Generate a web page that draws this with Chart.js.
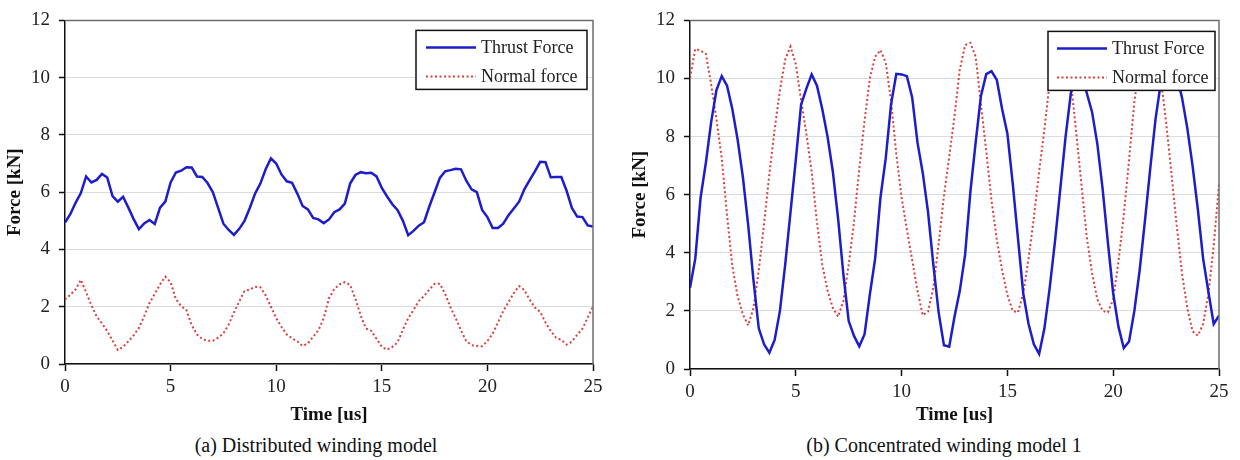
<!DOCTYPE html>
<html>
<head>
<meta charset="utf-8">
<script src="https://cdn.jsdelivr.net/npm/chart.js@4.4.1/dist/chart.umd.min.js"></script>
<style>
  body { margin: 0; background: #fff; width: 1240px; height: 460px; position: relative; overflow: hidden; }
  .box { position: absolute; top: 0; width: 620px; height: 430px; }
  .caption { position: absolute; top: 434px; font: 20px "Liberation Serif", serif; color: #111; text-align: center; }
</style>
</head>
<body>
<div class="box" style="left:0"><canvas id="chartA"></canvas></div>
<div class="box" style="left:620px"><canvas id="chartB"></canvas></div>
<div class="caption" style="left:156px;width:320px">(a) Distributed winding model</div>
<div class="caption" style="left:774px;width:340px">(b) Concentrated winding model 1</div>
<script>
// time axis, us
const timeUs = [
  0, 0.25, 0.5, 0.75, 1, 1.25, 1.5, 1.75, 2, 2.25,
  2.5, 2.75, 3, 3.25, 3.5, 3.75, 4, 4.25, 4.5, 4.75,
  5, 5.25, 5.5, 5.75, 6, 6.25, 6.5, 6.75, 7, 7.25,
  7.5, 7.75, 8, 8.25, 8.5, 8.75, 9, 9.25, 9.5, 9.75,
  10, 10.25, 10.5, 10.75, 11, 11.25, 11.5, 11.75, 12, 12.25,
  12.5, 12.75, 13, 13.25, 13.5, 13.75, 14, 14.25, 14.5, 14.75,
  15, 15.25, 15.5, 15.75, 16, 16.25, 16.5, 16.75, 17, 17.25,
  17.5, 17.75, 18, 18.25, 18.5, 18.75, 19, 19.25, 19.5, 19.75,
  20, 20.25, 20.5, 20.75, 21, 21.25, 21.5, 21.75, 22, 22.25,
  22.5, 22.75, 23, 23.25, 23.5, 23.75, 24, 24.25, 24.5, 24.75,
  25
];

// (a) distributed winding, kN
const thrustA = [
  4.94, 5.23, 5.63, 5.97, 6.55, 6.34, 6.43, 6.64, 6.51, 5.86,
  5.67, 5.84, 5.46, 5.06, 4.71, 4.91, 5.03, 4.89, 5.46, 5.67,
  6.34, 6.69, 6.75, 6.87, 6.86, 6.55, 6.53, 6.32, 6.0, 5.45,
  4.9, 4.68, 4.51, 4.72, 5.0, 5.45, 5.95, 6.3, 6.8, 7.18,
  7.0, 6.62, 6.38, 6.33, 5.95, 5.52, 5.4, 5.1, 5.05, 4.92,
  5.05, 5.3, 5.4, 5.6, 6.3, 6.6, 6.7, 6.66, 6.68, 6.55,
  6.15, 5.85, 5.58, 5.37, 5.0, 4.5, 4.65, 4.83, 4.95, 5.5,
  6.0, 6.5, 6.73, 6.77, 6.82, 6.8, 6.4, 6.1, 6.0, 5.38,
  5.13, 4.75, 4.75, 4.9, 5.2, 5.43, 5.67, 6.1, 6.42, 6.73,
  7.06, 7.05, 6.52, 6.53, 6.53, 6.05, 5.45, 5.15, 5.13, 4.84,
  4.8
];
const normalA = [
  2.25, 2.42, 2.6, 2.94, 2.5, 2.05, 1.66, 1.42, 1.15, 0.82,
  0.49, 0.6, 0.79, 1.0, 1.26, 1.67, 2.13, 2.45, 2.78, 3.05,
  2.85, 2.27, 2.02, 1.88, 1.35, 1.03, 0.87, 0.81, 0.81, 0.92,
  1.07, 1.38, 1.8, 2.18, 2.55, 2.6, 2.7, 2.68, 2.4, 2.0,
  1.6, 1.3, 1.03, 0.9, 0.79, 0.63, 0.72, 0.95, 1.18, 1.6,
  2.3, 2.62, 2.78, 2.86, 2.76, 2.28, 1.7, 1.24, 1.16, 0.88,
  0.6, 0.5, 0.6, 0.76, 1.2, 1.6, 1.88, 2.2, 2.37, 2.6,
  2.8, 2.8, 2.45, 1.98, 1.6, 1.17, 0.8, 0.66, 0.63, 0.62,
  0.8, 1.06, 1.45, 1.85, 2.16, 2.48, 2.72, 2.58, 2.25, 1.97,
  1.82, 1.45, 1.15, 0.92, 0.84, 0.68, 0.78, 1.02, 1.23, 1.62,
  2.02
];

// (b) concentrated winding model 1, kN
const thrustB = [
  2.8, 3.8, 5.9, 7.1, 8.5, 9.6, 10.08, 9.75, 8.95, 7.9,
  6.6, 4.95, 3.05, 1.4, 0.85, 0.56, 1.0, 2.0, 3.6, 5.4,
  7.2, 9.1, 9.65, 10.14, 9.75, 8.95, 8.0, 6.8, 5.17, 3.25,
  1.65, 1.14, 0.78, 1.2, 2.57, 3.8, 5.9, 7.25, 9.1, 10.16,
  10.14, 10.08, 9.35, 7.8, 6.75, 5.4, 3.59, 1.95, 0.82, 0.77,
  1.8, 2.69, 3.93, 6.1, 7.8, 9.4, 10.15, 10.25, 9.95, 8.95,
  8.1, 6.4, 4.5, 2.6, 1.55, 0.85, 0.52, 1.4, 2.8, 4.4,
  6.2, 8.0, 9.5, 10.1, 10.15, 9.5, 8.85, 7.75, 6.2, 4.35,
  2.6, 1.45, 0.72, 0.95, 2.0, 3.4, 5.1, 6.9, 8.6, 9.85,
  10.15, 10.2, 10.1, 9.35, 8.3, 7.0, 5.5, 3.8, 2.65, 1.55,
  1.84
];
const normalB = [
  10.02, 11.02, 10.96, 10.85, 9.8, 8.6, 7.25, 5.3, 3.55, 2.5,
  1.88, 1.5, 2.1, 3.4, 5.0, 6.7, 8.25, 9.6, 10.65, 11.1,
  10.5, 9.25, 8.1, 6.8, 5.05, 3.6, 2.7, 2.1, 1.8, 2.35,
  3.6, 5.05, 6.9, 8.55, 10.0, 10.75, 10.98, 10.55, 9.25, 7.4,
  5.9, 4.8, 3.75, 2.7, 1.85, 1.98, 2.8, 4.3, 5.95, 7.3,
  8.7, 10.3, 11.15, 11.23, 10.75, 9.1, 7.5, 5.8, 4.45, 3.4,
  2.55, 2.0, 1.95, 2.6, 3.8, 5.2, 6.8, 8.25, 9.9, 10.8,
  11.1, 10.8, 9.9, 8.15, 6.35, 4.55, 3.3, 2.4, 2.0, 1.95,
  2.4, 3.7, 5.3, 7.2, 9.2, 10.5, 11.05, 11.1, 10.8, 10.0,
  8.5, 6.75, 4.95, 3.3, 2.1, 1.3, 1.15, 1.55, 2.6, 4.25,
  6.35
];

const seriesNames = ['Thrust Force', 'Normal force'];
const yTicks = [0, 2, 4, 6, 8, 10, 12];
const xTicks = [0, 5, 10, 15, 20, 25];

const BLUE = '#1d1dc9';
const RED = '#d8403c';

Chart.defaults.font.family = '"Liberation Serif", "Times New Roman", serif';
Chart.defaults.font.size = 19;
Chart.defaults.color = '#222';

// top and right border of the plot
const framePlugin = {
  id: 'frame',
  afterDatasetsDraw (chart) {
    const { ctx, chartArea: a } = chart;
    ctx.save();
    ctx.strokeStyle = '#6e6e6e';
    ctx.lineWidth = 1.5;
    ctx.beginPath();
    ctx.moveTo(a.left, a.top);
    ctx.lineTo(a.right, a.top);
    ctx.lineTo(a.right, a.bottom);
    ctx.stroke();
    ctx.restore();
  }
};

// boxed legend inside the plot, top right
const boxLegend = {
  id: 'boxLegend',
  afterDraw (chart, args, opts) {
    const { ctx, chartArea: a } = chart;
    const x = a.right - opts.inset - opts.width;
    const y = a.top + opts.top;
    ctx.save();
    ctx.fillStyle = '#fff';
    ctx.fillRect(x, y, opts.width, opts.height);
    ctx.strokeStyle = '#111';
    ctx.lineWidth = 1.5;
    ctx.strokeRect(x, y, opts.width, opts.height);
    chart.data.datasets.forEach((ds, i) => {
      const ly = y + 17 + i * 29;
      ctx.strokeStyle = ds.borderColor;
      ctx.lineWidth = ds.borderWidth;
      ctx.setLineDash(ds.borderDash || []);
      ctx.beginPath();
      ctx.moveTo(x + opts.lineStart, ly);
      ctx.lineTo(x + opts.lineStart + 50, ly);
      ctx.stroke();
      ctx.setLineDash([]);
      ctx.fillStyle = '#222';
      ctx.font = '18px "Liberation Serif", serif';
      ctx.textBaseline = 'middle';
      ctx.fillText(ds.label, x + opts.lineStart + 55, ly + 1);
    });
    ctx.restore();
  }
};

function makeChart (id, thrust, normal, o) {
  const pts = arr => timeUs.map((t, i) => ({ x: t, y: arr[i] }));
  return new Chart(document.getElementById(id), {
    type: 'line',
    data: {
      datasets: [
        {
          label: seriesNames[0],
          data: pts(thrust),
          borderColor: BLUE,
          borderWidth: 2.5,
          pointRadius: 0,
          tension: 0
        },
        {
          label: seriesNames[1],
          data: pts(normal),
          borderColor: RED,
          borderWidth: 2,
          borderDash: [2, 2.5],
          pointRadius: 0,
          tension: 0
        }
      ]
    },
    options: {
      responsive: true,
      maintainAspectRatio: false,
      animation: false,
      layout: { padding: { top: 15, right: o.padRight, bottom: 0, left: 0 } },
      plugins: {
        legend: { display: false },
        tooltip: { enabled: false },
        boxLegend: o.legend
      },
      scales: {
        x: {
          type: 'linear',
          min: 0,
          max: 25,
          afterBuildTicks: s => { s.ticks = xTicks.map(v => ({ value: v })); },
          afterFit: s => { s.height = o.xHeight; },
          grid: { drawOnChartArea: false, tickLength: 7, tickColor: '#111', tickWidth: 1.5 },
          border: { color: '#111', width: 1.5 },
          ticks: { padding: 5, maxRotation: 0 },
          title: {
            display: true,
            text: 'Time [us]',
            font: { size: 19, weight: 'bold' },
            color: '#111',
            padding: { top: 0, bottom: 4 }
          }
        },
        y: {
          min: 0,
          max: 12,
          afterBuildTicks: s => { s.ticks = yTicks.map(v => ({ value: v })); },
          afterFit: s => { s.width = o.yWidth; },
          grid: { color: '#dcdcdc', lineWidth: 1, tickLength: 6, tickColor: '#111', tickWidth: 1.5 },
          border: { color: '#111', width: 1.5 },
          ticks: { padding: 9 },
          title: {
            display: true,
            text: 'Force [kN]',
            font: { size: 19, weight: 'bold' },
            color: '#111',
            padding: { top: o.yTitlePad, bottom: 0 }
          }
        }
      }
    },
    plugins: [framePlugin, boxLegend]
  });
}

makeChart('chartA', thrustA, normalA, {
  padRight: 27, xHeight: 66, yWidth: 65, yTitlePad: 4,
  legend: { inset: 6, top: 10, width: 171, height: 59, lineStart: 10 }
});
makeChart('chartB', thrustB, normalB, {
  padRight: 21, xHeight: 61, yWidth: 70, yTitlePad: 9,
  legend: { inset: 4, top: 11, width: 167, height: 59, lineStart: 9 }
});
</script>
</body>
</html>
